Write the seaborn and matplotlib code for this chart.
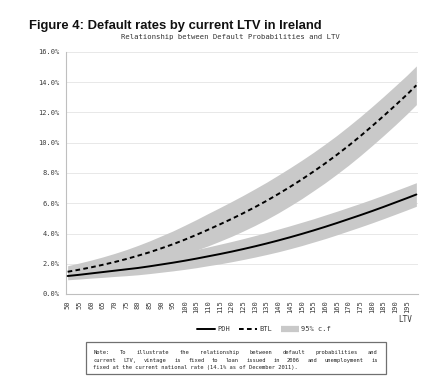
import seaborn as sns
import matplotlib.pyplot as plt
import pandas as pd
from matplotlib.lines import Line2D
from matplotlib.patches import Rectangle

# LTV points and values (% default probability)
ltv = [50, 55, 60, 65, 70, 75, 80, 85, 90, 95, 100, 105, 110, 115, 120, 125,
       130, 135, 140, 145, 150, 155, 160, 165, 170, 175, 180, 185, 190, 195, 199]
pdh = [1.19, 1.27, 1.36, 1.45, 1.54, 1.63, 1.72, 1.83, 1.95, 2.07, 2.20, 2.34,
       2.49, 2.64, 2.80, 2.97, 3.15, 3.34, 3.54, 3.75, 3.97, 4.20, 4.44, 4.69,
       4.95, 5.21, 5.48, 5.76, 6.05, 6.34, 6.58]
pdh_lo = [0.94, 0.99, 1.05, 1.10, 1.16, 1.21, 1.27, 1.35, 1.44, 1.53, 1.63, 1.74,
          1.87, 1.99, 2.13, 2.28, 2.44, 2.61, 2.79, 2.99, 3.20, 3.43, 3.66, 3.91,
          4.17, 4.43, 4.70, 4.98, 5.27, 5.56, 5.80]
pdh_hi = [1.44, 1.55, 1.67, 1.80, 1.92, 2.05, 2.17, 2.31, 2.46, 2.61, 2.77, 2.94,
          3.11, 3.29, 3.47, 3.66, 3.86, 4.07, 4.29, 4.51, 4.74, 4.97, 5.22, 5.47,
          5.73, 5.99, 6.26, 6.54, 6.83, 7.12, 7.36]
btl = [1.47, 1.61, 1.76, 1.93, 2.11, 2.31, 2.53, 2.76, 3.02, 3.29, 3.59, 3.91,
       4.25, 4.60, 4.96, 5.34, 5.74, 6.16, 6.61, 7.08, 7.57, 8.09, 8.63, 9.20,
       9.80, 10.43, 11.09, 11.77, 12.47, 13.19, 13.80]
btl_lo = [1.07, 1.17, 1.28, 1.41, 1.54, 1.69, 1.85, 2.01, 2.20, 2.41, 2.64, 2.90,
          3.18, 3.49, 3.81, 4.16, 4.53, 4.93, 5.36, 5.82, 6.30, 6.82, 7.35, 7.92,
          8.51, 9.14, 9.80, 10.48, 11.18, 11.91, 12.52]
btl_hi = [1.87, 2.05, 2.24, 2.45, 2.68, 2.93, 3.21, 3.51, 3.84, 4.17, 4.54, 4.92,
          5.32, 5.71, 6.11, 6.52, 6.95, 7.39, 7.86, 8.34, 8.84, 9.36, 9.91, 10.48,
          11.09, 11.72, 12.38, 13.06, 13.76, 14.47, 15.08]

x_ticks = list(range(50, 200, 5))
y_ticks = [0, 2, 4, 6, 8, 10, 12, 14, 16]

note_lines = [
    "Note: To illustrate the relationship between default probabilities and",
    "current LTV, vintage is fixed to loan issued in 2006 and unemployment is",
    "fixed at the current national rate (14.1% as of December 2011).",
]

df = pd.DataFrame({
    'LTV': ltv + ltv,
    'rate': pdh + btl,
    'type': ['PDH'] * len(ltv) + ['BTL'] * len(ltv),
})

sns.set_theme(style="white")
mono = 'DejaVu Sans Mono'
txt = '#3a3a3a'
band = '#c9c9c9'
dash = (2.4, 1.7)

W, H = 440, 383
fig = plt.figure(figsize=(W / 100, H / 100), dpi=100)
ax = fig.add_axes([66 / W, 1 - 294 / H, (418 - 66) / W, (294 - 52) / H])

ax.fill_between(ltv, pdh_lo, pdh_hi, color=band, lw=0, zorder=1)
ax.fill_between(ltv, btl_lo, btl_hi, color=band, lw=0, zorder=1)
sns.lineplot(data=df, x='LTV', y='rate', style='type',
             dashes={'PDH': '', 'BTL': dash}, color='black', lw=1.4,
             legend=False, ax=ax, zorder=3)

ax.set_xlim(49.3, 199.7)
ax.set_ylim(0, 16)
ax.set_xticks(x_ticks)
ax.set_xticklabels([str(v) for v in x_ticks], rotation=90, fontsize=5,
                   family=mono, color=txt)
ax.set_yticks(y_ticks)
ax.set_yticklabels([f"{v:.1f}%" for v in y_ticks], fontsize=5, family=mono,
                   color=txt)
ax.set_xlabel('')
ax.set_ylabel('')
ax.grid(axis='y', color='#e4e4e4', lw=0.6)
ax.tick_params(axis='both', length=2.5, width=0.6, color='#bfbfbf', pad=2)
for s in ['top', 'right']:
    ax.spines[s].set_visible(False)
for s in ['left', 'bottom']:
    ax.spines[s].set_color('#bfbfbf')
    ax.spines[s].set_linewidth(0.8)

fig.text(29 / W, 1 - 29 / H, "Figure 4: Default rates by current LTV in Ireland",
         family='Liberation Sans', weight='bold', fontsize=9.4, color='#111111',
         va='baseline', ha='left')
fig.text(230 / W, 1 - 37 / H, "Relationship between Default Probabilities and LTV",
         family=mono, fontsize=5.2, color='#333333', ha='center', va='center')
fig.text(405 / W, 1 - 319 / H, "LTV", family=mono, fontsize=5.5, color=txt,
         ha='center', va='center')

handles = [
    Line2D([], [], color='black', lw=1.4),
    Line2D([], [], color='black', lw=1.4, dashes=dash),
    Line2D([], [], color=band, lw=4.5, solid_capstyle='butt'),
]
fig.legend(handles, ['PDH', 'BTL', '95% c.f'], loc='center',
           bbox_to_anchor=(264 / W, 1 - 329 / H), ncol=3, frameon=False,
           handlelength=2.6, handletextpad=0.4, columnspacing=1.2,
           prop={'family': mono, 'size': 5}, labelcolor=txt)

# note box with justified monospace text
fig.patches.append(Rectangle((86 / W, 1 - 374 / H), 300 / W, 32 / H,
                             transform=fig.transFigure, fill=False,
                             edgecolor='#707070', lw=0.9))
fs = 3.9
cw = fs * 100 / 72 * 0.602
x0, x1 = 93.3, 377.7
for i, line in enumerate(note_lines):
    y = 1 - (354.3 + i * 7.3) / H
    words = line.split(' ')
    if i < len(note_lines) - 1:
        nchar = sum(len(w) for w in words)
        gap = (x1 - x0 - nchar * cw) / (len(words) - 1)
        xp = x0
        for w in words:
            fig.text(xp / W, y, w, family=mono, fontsize=fs, color='#222222',
                     ha='left', va='baseline')
            xp += len(w) * cw + gap
    else:
        fig.text(x0 / W, y, line, family=mono, fontsize=fs, color='#222222',
                 ha='left', va='baseline')

fig.savefig('out.png', dpi=100)
